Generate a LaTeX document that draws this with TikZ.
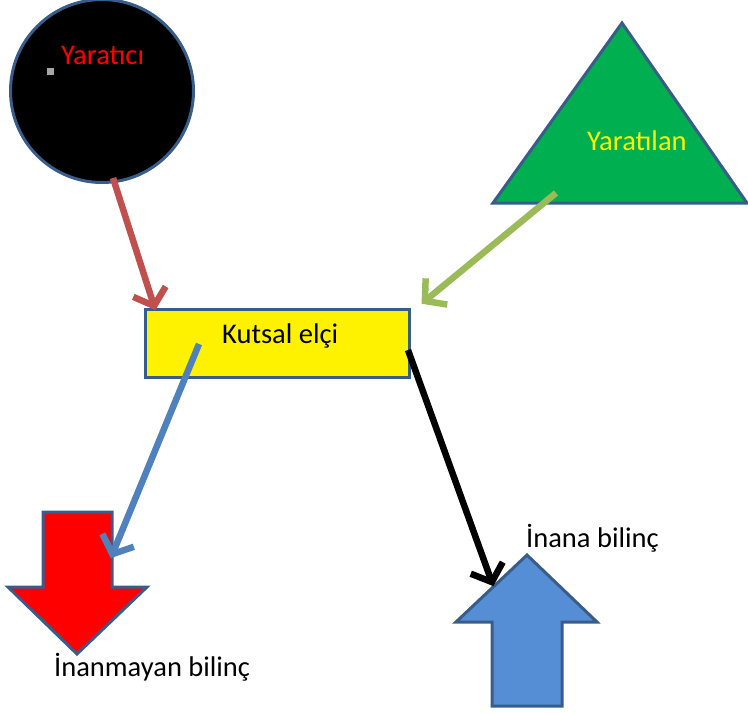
\documentclass[tikz,border=0pt]{standalone}
\usepackage{fontspec}
\setmainfont{Carlito}
\usetikzlibrary{arrows.meta}
\definecolor{edgeblue}{RGB}{56,93,138}
\definecolor{redarr}{RGB}{192,80,77}
\definecolor{greenarr}{RGB}{155,187,89}
\definecolor{bluearr}{RGB}{79,129,189}
\definecolor{trigreen}{RGB}{0,176,80}
\definecolor{upblue}{RGB}{85,142,213}
\tikzset{
  shapeedge/.style={draw=edgeblue, line width=3pt, line join=miter},
  conn/.style={line width=6.5pt, -{Straight Barb[length=15pt,width=34pt]}, shorten >=2pt},
  lbl/.style={font=\fontsize{28.5}{32}\selectfont, inner sep=0pt}
}
\begin{document}
\begin{tikzpicture}[x=1pt,y=-1pt]
\useasboundingbox (0,0) rectangle (748,713);
% circle
\node[circle, shapeedge, fill=black, minimum size=183pt, inner sep=0pt] (creator) at (102,91) {};
\node[fill=gray!70, minimum size=7pt, inner sep=0pt] (sq) at (50,71) {};
\node[lbl, text=red, anchor=west] (creatorlbl) at (61,55) {Yaratıcı};
% triangle
\draw[shapeedge, fill=trigreen] (622,23) -- (747,203) -- (493,203) -- cycle;
\node[lbl, text=yellow, anchor=west] (createdlbl) at (587,141) {Yaratılan};
\coordinate (tribase) at (556,193);
% rectangle
\node[draw=edgeblue, line width=3pt, fill=yellow, minimum width=264pt, minimum height=68pt, inner sep=0pt] (elci) at (277,343) {};
\node[lbl, text=black, anchor=west] (elcilbl) at (222,336) {Kutsal elçi};
% down red arrow
\draw[shapeedge, fill=red] (43,512) -- (112,512) -- (112,587) -- (147,587) -- (77,654) -- (8,587) -- (43,587) -- cycle;
\node[lbl, anchor=west] (nonbel) at (54,667) {İnanmayan bilinç};
% up blue arrow
\draw[shapeedge, fill=upblue] (527,555) -- (597,622) -- (562,622) -- (562,706) -- (492,706) -- (492,622) -- (456,622) -- cycle;
\node[lbl, anchor=west] (bel) at (526,538) {İnana bilinç};
% connectors
\coordinate (c1s) at (113,178);
\coordinate (c1e) at (156,312);
\coordinate (c2e) at (420,305);
\coordinate (c3s) at (199,344);
\coordinate (c3e) at (110,560);
\coordinate (c4s) at (408,350);
\coordinate (c4e) at (494,588);
\draw[conn, redarr] (c1s) -- (c1e);
\draw[conn, greenarr] (tribase) -- (c2e);
\draw[conn, bluearr] (c3s) -- (c3e);
\draw[conn, black] (c4s) -- (c4e);
\end{tikzpicture}
\end{document}
